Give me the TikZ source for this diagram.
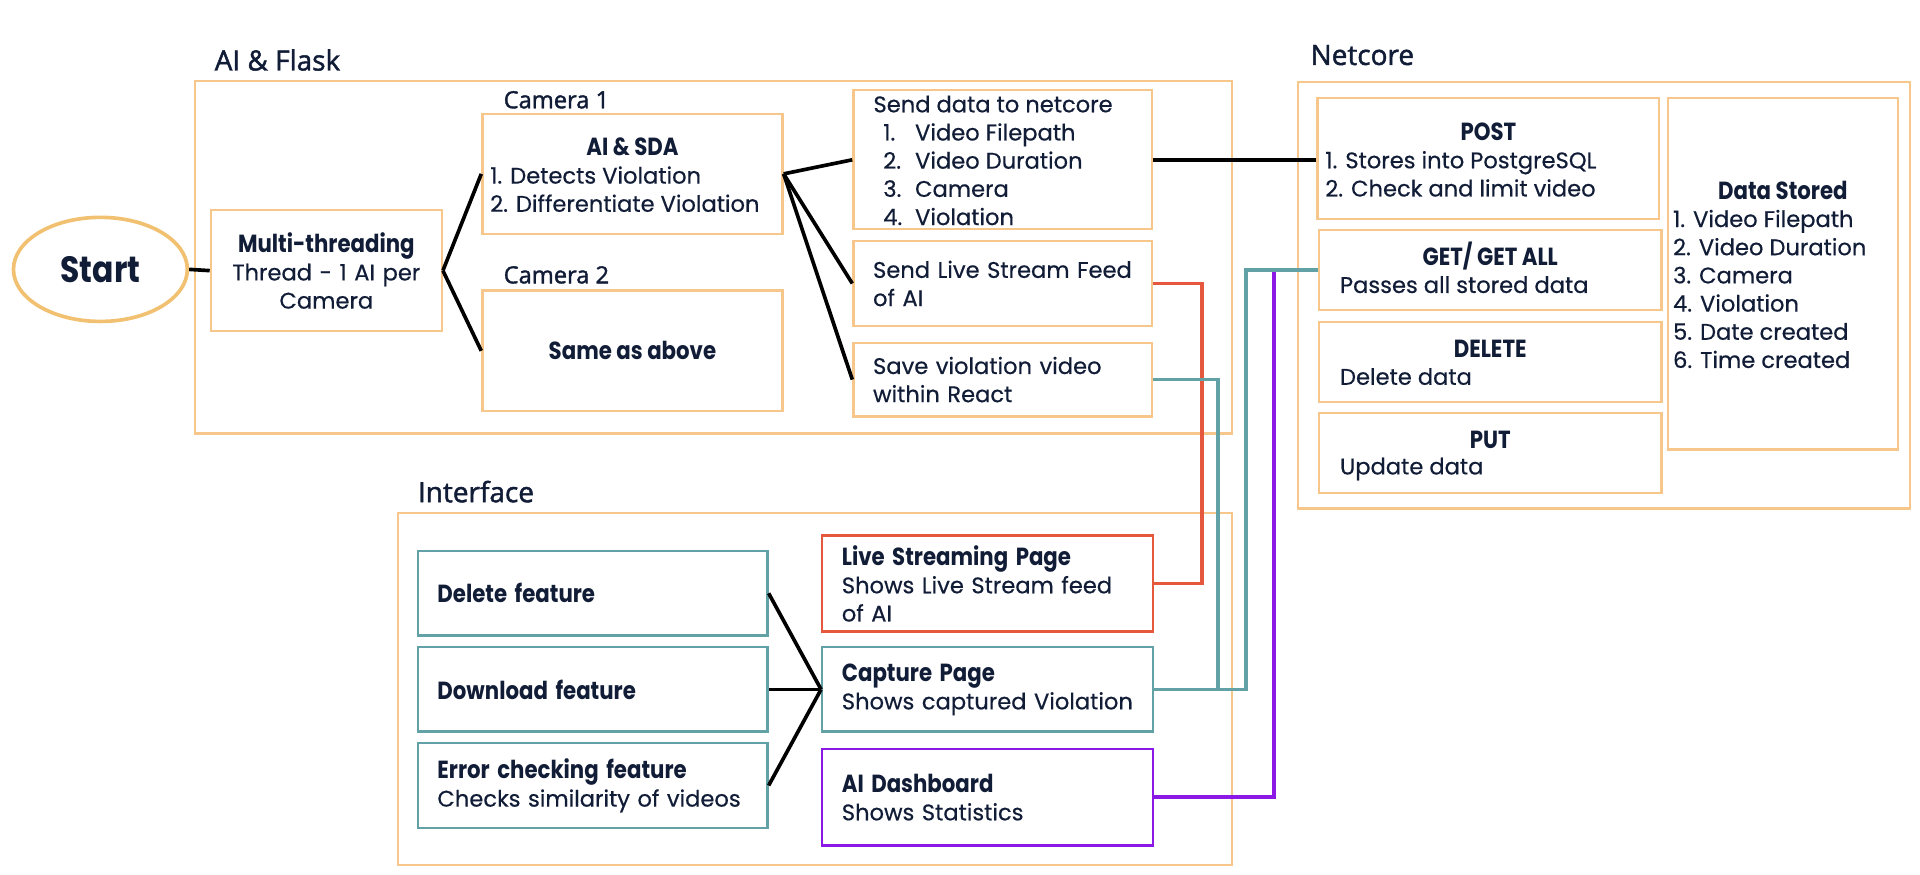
\documentclass[tikz,border=0pt]{standalone}
\usepackage{fontspec}
\setmainfont{Poppins}[UprightFeatures={FakeBold=0.5}, BoldFeatures={FakeStretch=0.86}]
\newfontfamily\titlefont[FakeBold=1.6]{Open Sans}
\usetikzlibrary{shapes.geometric}
\definecolor{ink}{HTML}{111C36}
\definecolor{peach}{HTML}{F6C68A}
\definecolor{sun}{HTML}{F1C171}
\definecolor{tealc}{HTML}{62A2A6}
\definecolor{redc}{HTML}{E6583D}
\definecolor{purplec}{HTML}{8C18E6}
\newcommand{\boxhead}[1]{{\fontsize{11.5}{13.1}\selectfont\bfseries #1}}

\begin{document}
\begin{tikzpicture}[
    every node/.style={font=\fontsize{10.5}{13.1}\selectfont, text=ink},
    box/.style={draw=peach, line width=1.1pt, inner xsep=0.32cm, inner ysep=0pt},
    frame/.style={draw=peach, line width=1.1pt, inner sep=0pt},
    head/.style={inner sep=0pt, font=\fontsize{11.5}{13.1}\selectfont\bfseries},
    lines/.style={anchor=west, align=left, inner sep=0pt},
    title/.style={anchor=west, inner sep=0pt, font=\titlefont\fontsize{13}{15}\selectfont},
    link/.style={line width=1.7pt}]
    \useasboundingbox (0,0) rectangle (31.36,-14.29);

    % Frames
    \node[frame, minimum width=16.94cm, minimum height=5.76cm] (flask) at (11.65,-4.2) {};
    \node[title] (flask-t) at (3.5,-0.98) {AI \& Flask};
    \node[frame, minimum width=10cm, minimum height=6.97cm] (netcore) at (26.2,-4.82) {};
    \node[title] (netcore-t) at (21.4,-0.9) {Netcore};
    \node[frame, minimum width=13.62cm, minimum height=5.75cm] (ui) at (13.31,-11.25) {};
    \node[title] (ui-t) at (6.82,-8.03) {Interface};

    % Start and threads
    \node[ellipse, draw=sun, line width=1.7pt, minimum width=2.84cm, minimum height=1.7cm, inner sep=0pt,
      font=\fontsize{17}{19}\selectfont\bfseries] (start) at (1.64,-4.4) {Start};
    \node[box, minimum width=3.77cm, minimum height=1.97cm, text width=3.13cm, align=center] (multi) at (5.33,-4.42)
      {\boxhead{Multi-threading}\\Thread - 1 AI per\\Camera};

    % Cameras
    \node[title, font=\titlefont\fontsize{11}{13}\selectfont] (cam1-t) at (8.22,-1.63) {Camera 1};
    \node[box, minimum width=4.9cm, minimum height=1.96cm] (cam1) at (10.33,-2.84) {};
    \node[head] (cam1-h) at (10.33,-2.4) {AI \& SDA};
    \node[lines] (cam1-l) at (8.0,-3.09) {1. Detects Violation\\2. Differentiate Violation};
    \node[title, font=\titlefont\fontsize{11}{13}\selectfont] (cam2-t) at (8.22,-4.49) {Camera 2};
    \node[box, minimum width=4.9cm, minimum height=1.97cm] (cam2) at (10.33,-5.73) {\boxhead{Same as above}};

    % Outputs of the AI
    \node[box, minimum width=4.88cm, minimum height=2.27cm] (send) at (16.38,-2.61) {};
    \node[lines] (send-l) at (14.26,-2.62) {Send data to netcore\\
      \hspace*{0.16cm}\makebox[0.52cm][l]{1.}Video Filepath\\
      \hspace*{0.16cm}\makebox[0.52cm][l]{2.}Video Duration\\
      \hspace*{0.16cm}\makebox[0.52cm][l]{3.}Camera\\
      \hspace*{0.16cm}\makebox[0.52cm][l]{4.}Violation};
    \node[box, minimum width=4.88cm, minimum height=1.38cm, text width=4.24cm, align=left] (live) at (16.38,-4.63)
      {Send Live Stream Feed\\of AI};
    \node[box, minimum width=4.88cm, minimum height=1.2cm, text width=4.24cm, align=left] (save) at (16.38,-6.2)
      {Save violation video\\within React};

    % Netcore
    \node[box, minimum width=5.58cm, minimum height=1.98cm] (post) at (24.31,-2.59) {};
    \node[head] (post-h) at (24.31,-2.15) {POST};
    \node[lines] (post-l) at (21.64,-2.84) {1. Stores into PostgreSQL\\2. Check and limit video};
    \node[box, minimum width=5.59cm, minimum height=1.3cm] (get) at (24.34,-4.41) {};
    \node[head] (get-h) at (24.34,-4.19) {GET/ GET ALL};
    \node[lines] (get-l) at (21.88,-4.65) {Passes all stored data};
    \node[box, minimum width=5.59cm, minimum height=1.31cm] (del) at (24.34,-5.91) {};
    \node[head] (del-h) at (24.34,-5.69) {DELETE};
    \node[lines] (del-l) at (21.88,-6.15) {Delete data};
    \node[box, minimum width=5.59cm, minimum height=1.31cm] (put) at (24.34,-7.4) {};
    \node[head] (put-h) at (24.34,-7.19) {PUT};
    \node[lines] (put-l) at (21.88,-7.66) {Update data};
    \node[box, minimum width=3.76cm, minimum height=5.74cm] (data) at (29.12,-4.47) {};
    \node[head] (data-h) at (29.12,-3.11) {Data Stored};
    \node[lines] (data-l) at (27.32,-4.72) {1. Video Filepath\\2. Video Duration\\3. Camera\\4. Violation\\5. Date created\\6. Time created};

    % Interface
    \node[box, draw=tealc, minimum width=5.71cm, minimum height=1.38cm, text width=5.07cm, align=left] (delfeat) at (9.68,-9.69)
      {\boxhead{Delete feature}};
    \node[box, draw=tealc, minimum width=5.71cm, minimum height=1.38cm, text width=5.07cm, align=left] (download) at (9.68,-11.26)
      {\boxhead{Download feature}};
    \node[box, draw=tealc, minimum width=5.71cm, minimum height=1.38cm, text width=5.07cm, align=left] (error) at (9.68,-12.83)
      {\boxhead{Error checking feature}\\Checks similarity of videos};
    \node[box, draw=redc, minimum width=5.4cm, minimum height=1.57cm, text width=4.76cm, align=left] (lspage) at (16.13,-9.53)
      {\boxhead{Live Streaming Page}\\Shows Live Stream feed\\of AI};
    \node[box, draw=tealc, minimum width=5.4cm, minimum height=1.38cm, text width=4.76cm, align=left] (capture) at (16.13,-11.26)
      {\boxhead{Capture Page}\\Shows captured Violation};
    \node[box, draw=purplec, minimum width=5.4cm, minimum height=1.58cm, text width=4.76cm, align=left] (dash) at (16.13,-13.02)
      {\boxhead{AI Dashboard}\\Shows Statistics};

    % Black links
    \draw[link] (start.east) -- (multi.west);
    \draw[link] (multi.east) -- (cam1.west);
    \draw[link] (multi.east) -- (cam2.west);
    \draw[link] (cam1.east) -- (send.west);
    \draw[link] (cam1.east) -- (live.west);
    \draw[link] (cam1.east) -- (save.west);
    \draw[link] (send.east) -- (send.east -| post.west);
    \draw[link] (delfeat.east) -- (capture.west);
    \draw[link] (download.east) -- (capture.west);
    \draw[link] (error.east) -- (capture.west);

    % Coloured links
    \coordinate (redbus) at (19.63,0);
    \coordinate (tealbus) at (19.89,0);
    \coordinate (getbus) at (20.35,0);
    \coordinate (purplebus) at (20.81,0);
    \draw[link, redc] (live.east) -- (live.east -| redbus) -- (lspage.east -| redbus) -- (lspage.east);
    \draw[link, purplec] (dash.east) -- (dash.east -| purplebus) -- (get.west -| purplebus) -- (get.west);
    \draw[link, tealc] (save.east) -- (save.east -| tealbus) -- (capture.east -| tealbus) -- (capture.east);
    \draw[link, tealc] (get.west) -- (get.west -| getbus) -- (capture.east -| getbus) -- (capture.east);
  \end{tikzpicture}
\end{document}
